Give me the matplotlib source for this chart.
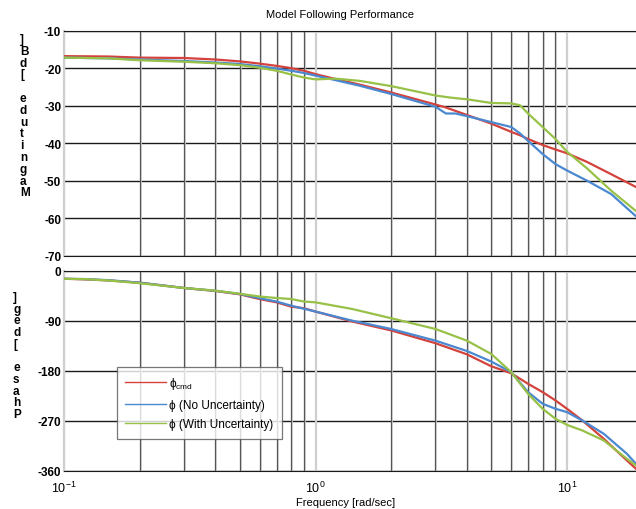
import numpy as np
import matplotlib
matplotlib.use("Agg")
import matplotlib.pyplot as plt
import matplotlib.patheffects as pe
from matplotlib.ticker import NullLocator

plt.rcParams['font.family'] = ['Liberation Sans', 'DejaVu Sans']
plt.rcParams['mathtext.fontset'] = 'custom'
plt.rcParams['mathtext.rm'] = 'Liberation Sans'

### Data

freq_mag = [0.1, 0.15, 0.2, 0.3, 0.4, 0.5, 0.6, 0.7, 0.8, 0.9, 1.0, 1.2, 1.5, 2,
            3, 3.3, 3.6, 4, 5, 6, 6.5, 7, 8, 9, 10, 12, 15, 18.8]
mag_cmd = [-16.7, -16.8, -17.1, -17.2, -17.6, -18.1, -18.7, -19.3, -19.9, -20.6,
           -21.5, -22.8, -24.3, -26.4, -29.6, -30.4, -31.3, -32.4, -34.7, -36.9,
           -37.8, -38.8, -40.4, -41.6, -42.6, -44.9, -48.2, -51.6]
mag_nom = [-17.1, -17.3, -17.6, -18.0, -18.4, -18.8, -19.4, -20.0, -20.6, -21.2,
           -21.9, -23.1, -24.6, -26.8, -30.2, -32.0, -32.0, -32.7, -34.3, -35.6,
           -37.3, -39.3, -42.8, -45.5, -47.2, -49.9, -53.5, -59.4]
mag_unc = [-17.1, -17.3, -17.8, -18.2, -18.6, -19.1, -19.8, -20.6, -21.6, -22.4,
           -22.9, -22.7, -23.3, -24.7, -27.2, -27.6, -27.9, -28.2, -29.2, -29.3,
           -29.8, -32.0, -35.6, -38.8, -42.2, -46.6, -52.6, -58.0]

freq_ph = [0.1, 0.12, 0.15, 0.2, 0.3, 0.4, 0.5, 0.6, 0.7, 0.8, 0.9, 1.0, 1.4, 2,
           3, 4, 5, 6, 7, 8, 9, 10, 11.5, 14, 17.3, 18.8]
ph_cmd = [-14, -15, -17, -21, -30.6, -36, -42, -50.6, -56.4, -64.2, -67, -73, -91,
          -107, -130, -150, -171.5, -184, -203, -218, -233, -248, -269, -302, -341, -356]
ph_nom = [-14, -14.5, -16.5, -21, -30.6, -35.6, -41.4, -49, -55, -62.4, -68, -73,
          -89.4, -104.4, -125.4, -144, -163, -182, -218, -239, -248, -254, -269,
          -293, -329, -347]
ph_unc = [-14, -14.5, -17, -22, -30.6, -35.4, -41, -46, -48.6, -50.4, -55, -56.4,
          -68.4, -85, -104.4, -125.4, -149.4, -182, -221, -248, -266, -277, -287,
          -305, -338, -350]

mag_ticks = [-10, -20, -30, -40, -50, -60, -70]
ph_ticks = [0, -90, -180, -270, -360]
x_ticks = [0.1, 1, 10]
x_ticklabels = [r'$\mathregular{10^{-1}}$', r'$\mathregular{10^{0}}$', r'$\mathregular{10^{1}}$']

labels = [r'ϕ$_{\mathregular{cmd}}$', 'ϕ (No Uncertainty)', 'ϕ (With Uncertainty)']
colors = ['#d4423c', '#4a88d0', '#97c147']

W, H = 636, 510
fig = plt.figure(figsize=(W / 100, H / 100), dpi=100)

xmax = 10 ** ((636 - 64) / 251.5 - 1)


def frame(ax):
    ax.set_xscale('log')
    ax.set_xlim(0.1, xmax)
    ax.xaxis.set_minor_locator(NullLocator())
    # vertical grid: light decades, dark minors with a faint shadow
    for d in [0.1, 1, 10]:
        for m in range(1, 10):
            f = m * d
            if f > xmax:
                continue
            if m == 1:
                ax.axvline(f, color='#cfcfcf', lw=1.6, zorder=1)
            else:
                ax.axvline(f, color='#555555', lw=0.9, zorder=1,
                           path_effects=[pe.Stroke(offset=(0.7, 0), linewidth=1.2,
                                                   foreground='#d2d2d2'),
                                         pe.Normal()])
    ax.yaxis.grid(True, color='#1a1a1a', lw=1.0)
    ax.xaxis.grid(False)
    ax.set_axisbelow(True)
    ax.spines['right'].set_visible(False)
    ax.spines['left'].set_color('#cfcfcf')
    ax.spines['left'].set_linewidth(1.6)
    ax.spines['top'].set_color('#1a1a1a')
    ax.spines['bottom'].set_color('#1a1a1a')
    ax.tick_params(axis='both', length=0, pad=2, labelsize=8.5)


ax1 = fig.add_axes([64 / W, 1 - 257 / H, 572 / W, 225 / H])
ax2 = fig.add_axes([64 / W, 1 - 472 / H, 572 / W, 200 / H])

frame(ax1)
ax1.set_ylim(-70, -10)
ax1.set_yticks(mag_ticks)
ax1.set_yticklabels([str(v) for v in mag_ticks], fontweight='bold')
ax1.set_xticks(x_ticks)
ax1.set_xticklabels([])

frame(ax2)
ax2.set_ylim(-360, 0)
ax2.set_yticks(ph_ticks)
ax2.set_yticklabels([str(v) for v in ph_ticks], fontweight='bold')
ax2.set_xticks(x_ticks)
ax2.set_xticklabels(x_ticklabels, fontsize=9)
ax2.tick_params(axis='x', pad=6)

for ys, c in zip([mag_cmd, mag_nom, mag_unc], colors):
    ax1.plot(freq_mag, ys, color=c, lw=1.6, zorder=3, solid_joinstyle='round')

handles = []
for ys, c in zip([ph_cmd, ph_nom, ph_unc], colors):
    h, = ax2.plot(freq_ph, ys, color=c, lw=1.6, zorder=3, solid_joinstyle='round')
    handles.append(h)

leg = ax2.legend(handles, labels, loc='upper left',
                 bbox_to_anchor=(117 / W, 1 - 368 / H), bbox_transform=fig.transFigure,
                 frameon=True, fancybox=False, fontsize=8.5, handlelength=3.4,
                 handletextpad=0.3, labelspacing=0.62, borderpad=0.72,
                 borderaxespad=0)
leg.get_frame().set_edgecolor('#555555')
leg.get_frame().set_linewidth(0.9)
for lh in leg.get_lines():
    lh.set_linewidth(1.0)

# widen the legend box a little to the right, as in the original
fig.canvas.draw()
bb = leg.get_frame().get_bbox()
leg.get_frame().set_width(bb.width + 9)

fig.text(340 / W, 1 - 15 / H, 'Model Following Performance', ha='center', va='center',
         fontsize=8)
fig.text(346 / W, 1 - 503 / H, 'Frequency [rad/sec]', ha='center', va='center',
         fontsize=8)

# stacked (reversed) axis labels
for i, ch in enumerate(']Bd[ edutingaM'):
    fig.text(20 / W, 1 - (40 + i * 11.8) / H, ch, ha='left', va='center',
             fontsize=8.5, fontweight='bold')
for i, ch in enumerate(']ged[ esahP'):
    fig.text(13 / W, 1 - (298 + i * 11.7) / H, ch, ha='left', va='center',
             fontsize=8.5, fontweight='bold')

fig.savefig('out.png', dpi=100)
